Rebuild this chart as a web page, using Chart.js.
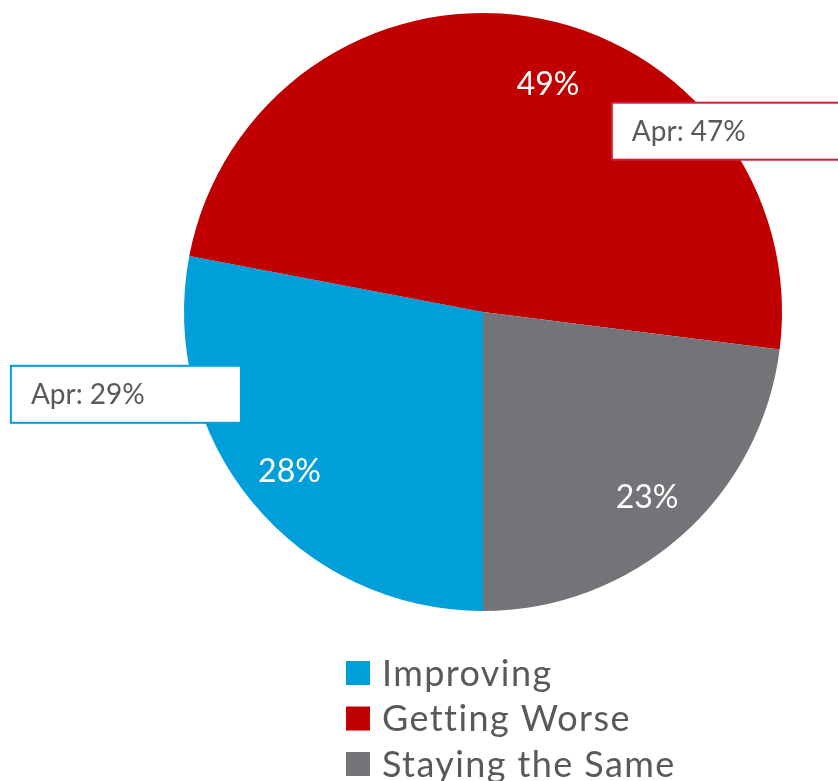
<!DOCTYPE html>
<html>
<head>
<meta charset="utf-8">
<script src="https://cdn.jsdelivr.net/npm/chart.js@4.4.0/dist/chart.umd.min.js"></script>
<style>
    body { margin: 0; background: #fff; }
    #chartArea { display: block; }
</style>
</head>
<body>
<canvas id="chartArea" width="838" height="781"></canvas>
<script>
// chart data
var categories = ['Improving', 'Getting Worse', 'Staying the Same'];
var currentValues = [28, 49, 23];
var aprilValues = [29, 47, null];
var sliceColors = ['#009FDA', '#C00000', '#737478'];

var textFont = 'Lato, "Open Sans", sans-serif';
var textColor = '#595959';

// percent labels: radial fraction and small angle nudge per slice
var labelRadius = [0.84, 0.79, 0.83];
var labelNudge = [0, 7, 0];

// callout boxes for April values (offset from centre, in radii)
var calloutPos = [
    { dx: -1.579, dy: 0.18, border: '#009FDA' },
    { dx: 0.431, dy: -0.70, border: '#D01F3C' },
    null
];

var pieLabels = {
    id: 'pieLabels',
    afterDatasetsDraw: function (chart) {
        var ctx = chart.ctx;
        var meta = chart.getDatasetMeta(0);
        ctx.save();
        meta.data.forEach(function (arc, i) {
            var mid = (arc.startAngle + arc.endAngle) / 2 + labelNudge[i] * Math.PI / 180;
            var r = arc.outerRadius * labelRadius[i];
            ctx.font = '32px ' + textFont;
            ctx.fillStyle = '#ffffff';
            ctx.textAlign = 'center';
            ctx.textBaseline = 'middle';
            ctx.fillText(currentValues[i] + '%', arc.x + Math.cos(mid) * r, arc.y + Math.sin(mid) * r);
        });
        // April callouts
        meta.data.forEach(function (arc, i) {
            var c = calloutPos[i];
            if (!c || aprilValues[i] == null) return;
            var R = arc.outerRadius;
            var bx = arc.x + c.dx * R, by = arc.y + c.dy * R;
            var bw = 230, bh = 57;
            ctx.fillStyle = '#ffffff';
            ctx.fillRect(bx, by, bw, bh);
            ctx.lineWidth = 2;
            ctx.strokeStyle = c.border;
            ctx.strokeRect(bx, by, bw, bh);
            ctx.font = '28px ' + textFont;
            ctx.fillStyle = textColor;
            ctx.textAlign = 'left';
            ctx.textBaseline = 'middle';
            ctx.fillText('Apr: ' + aprilValues[i] + '%', bx + 20, by + bh / 2 + 1);
        });
        ctx.restore();
    }
};

var stackedLegend = {
    id: 'stackedLegend',
    afterDraw: function (chart) {
        var ctx = chart.ctx;
        var left = 346, top = 673, gap = 45.5, box = 24;
        ctx.save();
        ctx.font = '36px ' + textFont;
        ctx.letterSpacing = '1.4px';
        ctx.textAlign = 'left';
        ctx.textBaseline = 'middle';
        chart.data.labels.forEach(function (lbl, i) {
            var y = top + i * gap;
            ctx.fillStyle = chart.data.datasets[0].backgroundColor[i];
            ctx.fillRect(left, y - box / 2, box, box);
            ctx.fillStyle = textColor;
            ctx.fillText(lbl, left + 36, y + 1);
        });
        ctx.restore();
    }
};

var config = {
    type: 'pie',
    data: {
        labels: categories,
        datasets: [{
            data: currentValues,
            backgroundColor: sliceColors,
            borderWidth: 0
        }]
    },
    options: {
        responsive: false,
        animation: false,
        rotation: 180,
        layout: {
            padding: { top: 13, bottom: 170, left: 184, right: 56 }
        },
        plugins: {
            legend: { display: false },
            tooltip: { enabled: false }
        }
    },
    plugins: [pieLabels, stackedLegend]
};

var ctx = document.getElementById('chartArea').getContext('2d');
var myPie = new Chart(ctx, config);
</script>
</body>
</html>
